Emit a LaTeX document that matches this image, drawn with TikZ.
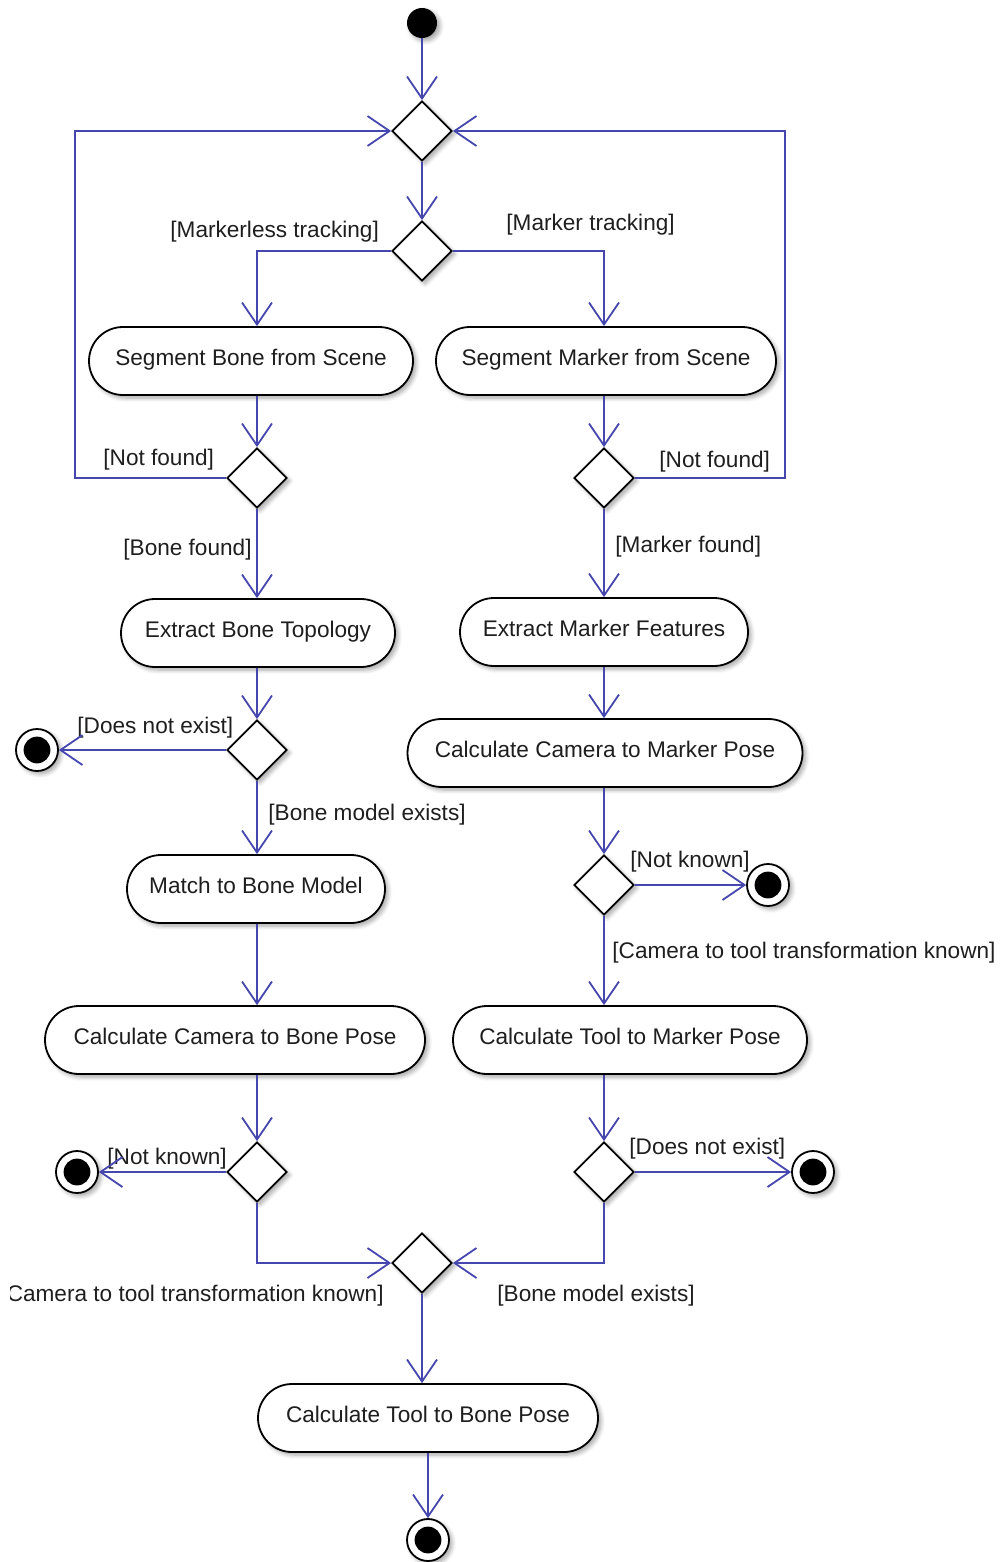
\documentclass[tikz,border=0pt]{standalone}
\usepackage{fontspec}
\setmainfont{Liberation Sans}
\usetikzlibrary{shapes.geometric,shapes.misc,arrows.meta,shadows.blur}

\definecolor{flowblue}{RGB}{70,70,175}
\definecolor{inkgray}{RGB}{30,30,30}

\begin{document}
\begin{tikzpicture}[x=0.5pt,y=-0.5pt,
  every node/.style={font=\fontsize{11.3}{13.5}\selectfont, text=inkgray},
  softshadow/.style={blur shadow={shadow xshift=1.5pt,shadow yshift=-1.5pt,shadow blur steps=6,shadow opacity=35}},
  action/.style={rounded rectangle, draw=black, line width=0.9pt, fill=white,
    minimum height=34pt, inner sep=0pt, text height=8.3pt, text depth=4.3pt, softshadow},
  branch/.style={diamond, draw=black, line width=0.9pt, fill=white,
    minimum width=30pt, minimum height=30pt, inner sep=0pt, softshadow},
  startdot/.style={circle, fill=black, minimum size=15pt, inner sep=0pt, softshadow},
  enddot/.style={circle, draw=black, line width=0.9pt, fill=white, minimum size=21pt,
    inner sep=0pt, softshadow,
    path picture={\fill[black] (path picture bounding box.center) circle (6.7pt);}},
  guard/.style={inner sep=0pt},
  flow/.style={draw=flowblue, line width=0.9pt, -{Straight Barb[length=11pt,width=15pt]}},
]
\useasboundingbox (0,0) rectangle (1001,1562);

% activity nodes
\node[startdot] (start) at (422,23) {};
\node[branch] (d1) at (422,131) {};
\node[branch] (d2) at (422,251) {};
\node[action, minimum width=162pt] (sb) at (251,361) {Segment Bone from Scene};
\node[action, minimum width=170pt] (sm) at (606,361) {Segment Marker from Scene};
\node[branch] (d3) at (257,478) {};
\node[branch] (d4) at (604,478) {};
\node[action, minimum width=137pt] (eb) at (258,633) {Extract Bone Topology};
\node[action, minimum width=144pt] (em) at (604,632) {Extract Marker Features};
\node[branch] (d5) at (257,750) {};
\node[enddot] (e1) at (37,750) {};
\node[action, minimum width=197.5pt] (ccm) at (605,753) {Calculate Camera to Marker Pose};
\node[action, minimum width=129pt] (mb) at (256,889) {Match to Bone Model};
\node[branch] (d6) at (604,885) {};
\node[enddot] (e2) at (768,885) {};
\node[action, minimum width=190pt] (ccb) at (235,1040) {Calculate Camera to Bone Pose};
\node[action, minimum width=177pt] (ctm) at (630,1040) {Calculate Tool to Marker Pose};
\node[branch] (d7) at (257,1172) {};
\node[enddot] (e3) at (77,1172) {};
\node[branch] (d8) at (604,1172) {};
\node[enddot] (e4) at (813,1172) {};
\node[branch] (d9) at (422,1263) {};
\node[action, minimum width=170pt] (ctb) at (428,1418) {Calculate Tool to Bone Pose};
\node[enddot] (e5) at (428,1540) {};

% guard labels
\node[guard, anchor=west] (gML) at (170,232) {[Markerless tracking]};
\node[guard, anchor=west] (gMT) at (506,225) {[Marker tracking]};
\node[guard, anchor=west] (gNF1) at (103,460) {[Not found]};
\node[guard, anchor=west] (gNF2) at (659,462) {[Not found]};
\node[guard, anchor=west] (gBF) at (123,550) {[Bone found]};
\node[guard, anchor=west] (gMF) at (615,547) {[Marker found]};
\node[guard, anchor=west] (gDN1) at (77,728) {[Does not exist]};
\node[guard, anchor=west] (gBM1) at (268,815) {[Bone model exists]};
\node[guard, anchor=west] (gNK1) at (630,862) {[Not known]};
\node[guard, anchor=west] (gCT1) at (612,953) {[Camera to tool transformation known]};
\node[guard, anchor=west] (gNK2) at (107,1159) {[Not known]};
\node[guard, anchor=west] (gDN2) at (629,1149) {[Does not exist]};
\begin{scope}
  \clip (10,1270) rectangle (400,1320);
  \node[guard, anchor=east] (gCT2) at (384,1296) {[Camera to tool transformation known]};
\end{scope}
\node[guard, anchor=west] (gBM2) at (497,1296) {[Bone model exists]};

% control flow
\coordinate (loopL) at (75,131);
\coordinate (loopR) at (785,131);
\draw[flow] (start) -- (d1);
\draw[flow] (d1) -- (d2);
\draw[flow] (d2.west) -| (sb.north -| d3);
\draw[flow] (d2.east) -| (sm.north -| d4);
\draw[flow] (sb.south -| d3) -- (d3.north);
\draw[flow] (sm.south -| d4) -- (d4.north);
\draw[flow] (d3.west) -| (loopL) -- (d1.west);
\draw[flow] (d4.east) -| (loopR) -- (d1.east);
\draw[flow] (d3.south) -- (eb.north -| d3);
\draw[flow] (d4.south) -- (em.north -| d4);
\draw[flow] (eb.south -| d5) -- (d5.north);
\draw[flow] (em.south -| d4) -- (ccm.north -| d4);
\draw[flow] (d5.west) -- (e1);
\draw[flow] (d5.south) -- (mb.north -| d5);
\draw[flow] (ccm.south -| d6) -- (d6.north);
\draw[flow] (d6.east) -- (e2);
\draw[flow] (d6.south) -- (ctm.north -| d6);
\draw[flow] (mb.south -| d7) -- (ccb.north -| d7);
\draw[flow] (ccb.south -| d7) -- (d7.north);
\draw[flow] (ctm.south -| d8) -- (d8.north);
\draw[flow] (d7.west) -- (e3);
\draw[flow] (d8.east) -- (e4);
\draw[flow] (d7.south) |- (d9.west);
\draw[flow] (d8.south) |- (d9.east);
\draw[flow] (d9.south) -- (ctb.north -| d9);
\draw[flow] (ctb.south) -- (e5);
\end{tikzpicture}
\end{document}
